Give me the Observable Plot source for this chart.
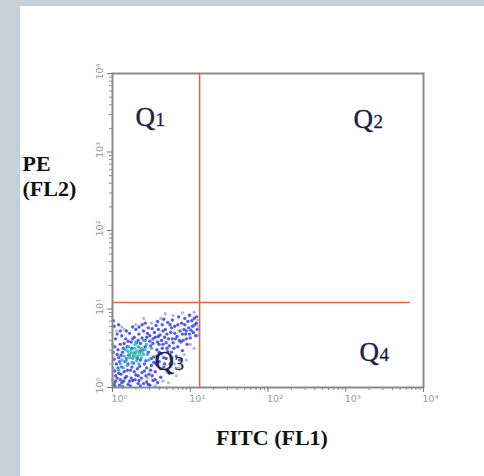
<!DOCTYPE html>
<html><head><meta charset="utf-8">
<script src="https://cdn.jsdelivr.net/npm/d3@7"></script>
<script src="https://cdn.jsdelivr.net/npm/@observablehq/plot@0.6"></script>
<style>
html,body{margin:0;padding:0;background:#fff}
#wrap{position:relative;width:484px;height:476px;background:#fff;overflow:hidden}
#gl{position:absolute;left:0;top:0;width:20px;height:476px;background:#c5d0d8}
#gt{position:absolute;left:0;top:0;width:484px;height:6px;background:#c5d0d8}
#wrap svg{position:absolute;left:0;top:0}
</style>
</head><body>
<div id="wrap"><div id="gl"></div><div id="gt"></div></div>
<script>
// axis ticks (data units, log scale)
const majorTicks = [1, 10, 100, 1000, 10000];
const tickLabels = ["10⁰", "10¹", "10²", "10³", "10⁴"];
const minorMult = [2, 3, 4, 5, 6, 7, 8, 9];
// quadrant gates
const gateFITC = 13.2;
const gatePE = 12.1;
const gatePEEnd = 6800;
// events, as [log10 FITC, log10 PE]
const eventsBlue = [[0.02,0.05],[0.06,0.12],[0.03,0.21],[0.09,0.03],[0.11,0.17],[0.14,0.08],[0.05,0.3],[0.12,0.26],[0.18,0.14],[0.2,0.04],[0.16,0.33],[0.08,0.38],[0.23,0.22],[0.26,0.09],[0.21,0.41],[0.13,0.45],[0.27,0.31],[0.3,0.16],[0.33,0.05],[0.29,0.44],[0.19,0.52],[0.1,0.55],[0.35,0.27],[0.37,0.12],[0.24,0.58],[0.32,0.37],[0.39,0.48],[0.41,0.21],[0.44,0.07],[0.36,0.56],[0.28,0.64],[0.17,0.62],[0.43,0.34],[0.47,0.17],[0.46,0.45],[0.5,0.28],[0.42,0.6],[0.34,0.68],[0.52,0.09],[0.53,0.39],[0.49,0.53],[0.55,0.2],[0.57,0.48],[0.48,0.66],[0.4,0.72],[0.6,0.33],[0.58,0.58],[0.62,0.13],[0.63,0.43],[0.54,0.7],[0.66,0.26],[0.65,0.55],[0.61,0.67],[0.69,0.37],[0.7,0.5],[0.68,0.74],[0.72,0.62],[0.74,0.3],[0.76,0.45],[0.78,0.57],[0.75,0.7],[0.8,0.78],[0.82,0.4],[0.84,0.52],[0.83,0.65],[0.87,0.72],[0.9,0.47],[0.91,0.6],[0.89,0.82],[0.94,0.68],[0.96,0.55],[0.98,0.76],[1.0,0.63],[1.02,0.85],[1.04,0.7],[1.06,0.8],[1.08,0.9],[1.09,0.74],[0.86,0.35],[0.73,0.18],[0.64,0.8],[0.56,0.79],[0.46,0.76],[0.38,0.8],[0.3,0.74],[0.22,0.69],[0.12,0.66],[0.04,0.62],[0.01,0.45],[0.07,0.48],[0.15,0.56],[0.25,0.5],[0.31,0.57],[0.38,0.63],[0.45,0.69],[0.52,0.62],[0.59,0.74],[0.67,0.64],[0.71,0.83],[0.77,0.86],[0.93,0.88],[0.99,0.92],[0.85,0.9],[0.02,0.36],[0.04,0.15],[0.07,0.25],[0.1,0.1],[0.15,0.2],[0.2,0.3],[0.24,0.12],[0.28,0.2],[0.33,0.15],[0.36,0.35],[0.4,0.05],[0.44,0.25],[0.5,0.37],[0.51,0.15],[0.56,0.3],[0.6,0.45],[0.62,0.24],[0.66,0.38],[0.71,0.46],[0.79,0.5],[0.81,0.62],[0.88,0.58],[0.95,0.62],[1.03,0.78],[1.07,0.66],[0.92,0.74],[0.97,0.84],[0.03,0.02],[0.13,0.01],[0.23,0.02],[0.36,0.02],[0.48,0.03],[0.58,0.06],[0.09,0.33],[0.18,0.37],[0.27,0.4],[0.35,0.46],[0.42,0.52],[0.48,0.59],[0.55,0.64],[0.63,0.6],[0.7,0.68],[0.76,0.76],
  [0.04,0.08],[0.08,0.18],[0.12,0.06],[0.16,0.12],[0.19,0.22],[0.22,0.08],[0.25,0.26],[0.29,0.1],[0.32,0.24],[0.34,0.09],[0.38,0.19],[0.41,0.3],[0.43,0.15],[0.46,0.04],[0.49,0.22],[0.53,0.32],[0.55,0.1],[0.57,0.4],[0.6,0.55],[0.64,0.5],[0.67,0.3],[0.69,0.57],[0.73,0.53],[0.77,0.62],[0.8,0.69],[0.84,0.8],[0.86,0.6],[0.9,0.68],[0.93,0.8],[0.95,0.72],[0.99,0.68],[1.01,0.73],[1.05,0.88],[1.08,0.82],[0.06,0.42],[0.03,0.52],[0.06,0.68],[0.1,0.72],[0.02,0.78],[0.18,0.72],[0.26,0.77],[0.34,0.77],[0.42,0.82],[0.51,0.75],[0.58,0.84],[0.66,0.87],[0.74,0.8],[0.11,0.41],[0.14,0.5],[0.2,0.59],[0.26,0.62],[0.33,0.6],[0.44,0.64],[0.52,0.56],[0.59,0.65],[0.65,0.72],[0.01,0.85],[0.08,0.8]];
const eventsLight = [[0.05,0.72],[0.15,0.74],[0.3,0.8],[0.5,0.82],[0.62,0.88],[0.78,0.92],[0.9,0.95],[1.05,0.96],[1.1,0.86],[1.11,0.78],[1.1,0.66],[1.0,0.55],[0.92,0.42],[0.8,0.3],[0.7,0.2],[0.65,0.08],[0.55,0.02],[0.72,0.06],[0.82,0.15],[0.95,0.35],[1.05,0.5],[0.0,0.55],[0.01,0.25],[0.0,0.1],[0.12,0.77],[0.4,0.88],[0.68,0.94],[0.85,0.25],[0.6,0.0],[0.45,0.12],[0.58,0.38],[0.77,0.38]];
const eventsCore = [[0.18,0.35],[0.22,0.42],[0.26,0.37],[0.3,0.45],[0.24,0.48],[0.32,0.4],[0.28,0.5],[0.35,0.42],[0.2,0.46],[0.33,0.52],[0.38,0.45],[0.27,0.44],[0.23,0.38],[0.31,0.34],[0.36,0.5],[0.4,0.42],[0.29,0.55],[0.25,0.32],[0.42,0.48],[0.34,0.3],[0.15,0.4],[0.19,0.28],[0.37,0.38],[0.44,0.55],[0.21,0.52],[0.1,0.3],[0.14,0.25],[0.45,0.42],[0.5,0.5],[0.4,0.6],[0.08,0.22],[0.12,0.35],[0.47,0.35],[0.3,0.58],[0.17,0.48]];
const eventsPeak = [[0.27,0.41],[0.31,0.47],[0.24,0.44],[0.34,0.44],[0.29,0.39],[0.2,0.38],[0.38,0.5]];
// quadrant labels: name, FITC, PE (anchor positions in data units)
const quadNames = ["Q1", "Q2", "Q3", "Q4"];
const quadFITC = [1.98, 1259, 3.47, 1503];
const quadPE = [2754, 2594, 2.14, 2.79];

const toPts = arr => arr.map(([a, b]) => ({fitc: 10 ** a, pe: 10 ** b}));
const minorTicks = majorTicks.slice(0, -1).flatMap(d => minorMult.map(m => d * m));
const quads = quadNames.map((n, i) => ({name: n, fitc: quadFITC[i], pe: quadPE[i]}));
const fmt = d => tickLabels[majorTicks.indexOf(d)] ?? "";

const chart = Plot.plot({
  width: 484, height: 476,
  marginLeft: 112, marginRight: 61, marginTop: 73, marginBottom: 89,
  style: {background: "transparent", fontFamily: "DejaVu Sans"},
  x: {type: "log", domain: [1, 10000], label: null},
  y: {type: "log", domain: [1, 10000], label: null},
  marks: [
    Plot.dot(toPts(eventsLight), {x: "fitc", y: "pe", r: 1.6, fill: "#9aa0f2", fillOpacity: 0.8}),
    Plot.dot(toPts(eventsBlue), {x: "fitc", y: "pe", r: 1.7, fill: "#2a34e2", fillOpacity: 0.8}),
    Plot.dot(toPts(eventsCore), {x: "fitc", y: "pe", r: 1.7, fill: "#2fb4cc", fillOpacity: 0.9}),
    Plot.dot(toPts(eventsPeak), {x: "fitc", y: "pe", r: 1.6, fill: "#52d08e"}),
    Plot.ruleX([gateFITC], {stroke: "#df6440", strokeWidth: 1.5}),
    Plot.ruleY([{pe: gatePE, x1: 1, x2: gatePEEnd}], {y: "pe", x1: "x1", x2: "x2", stroke: "#df6440", strokeWidth: 1.5}),
    Plot.frame({stroke: "#8a8a8a", strokeWidth: 2}),
    Plot.axisX({ticks: minorTicks, tickSize: 3, tickFormat: () => "", stroke: "#8a8a8a"}),
    Plot.axisX({ticks: majorTicks, tickSize: 5, tickFormat: () => "", stroke: "#777"}),
    Plot.axisX({ticks: majorTicks, tickSize: 0, tickPadding: 8, dx: 7, tickFormat: fmt, fill: "#999", fontSize: 9.5}),
    Plot.axisY({ticks: minorTicks, tickSize: 3, tickFormat: () => "", stroke: "#8a8a8a"}),
    Plot.axisY({ticks: majorTicks, tickSize: 5, tickFormat: () => "", stroke: "#777"}),
    Plot.axisY({ticks: majorTicks, tickSize: 0, tickPadding: 10, dy: -2, tickRotate: -90, tickFormat: fmt, fill: "#999", fontSize: 9.5}),
    Plot.text(quads, {x: "fitc", y: "pe", text: () => "Q", textAnchor: "start", lineAnchor: "middle", fontSize: 27, fontFamily: "Liberation Serif", fill: "#1c2244", stroke: "#1c2244", strokeWidth: 0.4}),
    Plot.text(quads, {x: "fitc", y: "pe", text: d => d.name.slice(1), textAnchor: "start", lineAnchor: "middle", dx: 20, dy: 2.6, fontSize: 19, fontFamily: "Liberation Serif", fill: "#1c2244", stroke: "#1c2244", strokeWidth: 0.3}),
    Plot.text(["PE\n(FL2)"], {frameAnchor: "left", text: d => d, dx: -90, dy: -55, textAnchor: "start", lineAnchor: "middle", lineHeight: 1.14, fontSize: 22, fontFamily: "Liberation Serif", fontWeight: "bold", fill: "#111"}),
    Plot.text(["FITC (FL1)"], {frameAnchor: "bottom", text: d => d, dx: 4, dy: 50, textAnchor: "middle", lineAnchor: "middle", fontSize: 22, fontFamily: "Liberation Serif", fontWeight: "bold", fill: "#111"})
  ]
});
document.getElementById("wrap").appendChild(chart);
</script>
</body></html>
